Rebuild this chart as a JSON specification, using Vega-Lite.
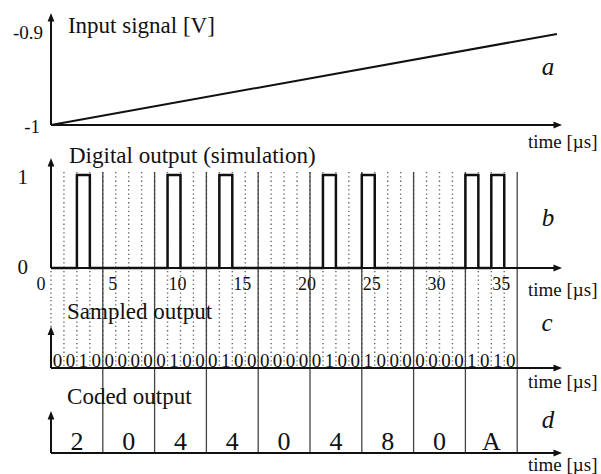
{
  "$schema": "https://vega.github.io/schema/vega-lite/v6.json",
  "padding": 0,
  "bounds": "flush",
  "spacing": 0,
  "config": {
    "view": {"stroke": null},
    "text": {"font": "Liberation Serif", "color": "#111"}
  },
  "resolve": {"scale": {"x": "independent", "y": "independent"}},
  "datasets": {
    "one": [{}],
    "ramp": [{"t": 0, "v": -1}, {"t": 39.07, "v": -0.901}],
    "xticks": [{"tick": 0}, {"tick": 5}, {"tick": 10}, {"tick": 15}, {"tick": 20}, {"tick": 25}, {"tick": 30}, {"tick": 35}],
    "bits": [
      {"t": 0, "bit": 0}, {"t": 1, "bit": 0}, {"t": 2, "bit": 1}, {"t": 3, "bit": 0},
      {"t": 4, "bit": 0}, {"t": 5, "bit": 0}, {"t": 6, "bit": 0}, {"t": 7, "bit": 0},
      {"t": 8, "bit": 0}, {"t": 9, "bit": 1}, {"t": 10, "bit": 0}, {"t": 11, "bit": 0},
      {"t": 12, "bit": 0}, {"t": 13, "bit": 1}, {"t": 14, "bit": 0}, {"t": 15, "bit": 0},
      {"t": 16, "bit": 0}, {"t": 17, "bit": 0}, {"t": 18, "bit": 0}, {"t": 19, "bit": 0},
      {"t": 20, "bit": 0}, {"t": 21, "bit": 1}, {"t": 22, "bit": 0}, {"t": 23, "bit": 0},
      {"t": 24, "bit": 1}, {"t": 25, "bit": 0}, {"t": 26, "bit": 0}, {"t": 27, "bit": 0},
      {"t": 28, "bit": 0}, {"t": 29, "bit": 0}, {"t": 30, "bit": 0}, {"t": 31, "bit": 0},
      {"t": 32, "bit": 1}, {"t": 33, "bit": 0}, {"t": 34, "bit": 1}, {"t": 35, "bit": 0}
    ],
    "codes": [
      {"start": 0, "end": 4, "code": "2"}, {"start": 4, "end": 8, "code": "0"},
      {"start": 8, "end": 12, "code": "4"}, {"start": 12, "end": 16, "code": "4"},
      {"start": 16, "end": 20, "code": "0"}, {"start": 20, "end": 24, "code": "4"},
      {"start": 24, "end": 28, "code": "8"}, {"start": 28, "end": 32, "code": "0"},
      {"start": 32, "end": 36, "code": "A"}
    ]
  },
  "vconcat": [
    {
      "width": 601, "height": 150,
      "layer": [
        {"data": {"name": "ramp"}, "mark": {"type": "line", "stroke": "#111", "strokeWidth": 2},
         "encoding": {
           "x": {"field": "t", "type": "quantitative", "scale": {"domain": [-3.938, 42.471], "nice": false, "zero": false}, "axis": null},
           "y": {"field": "v", "type": "quantitative", "scale": {"domain": [-1.02717, -0.86413], "nice": false, "zero": false}, "axis": null}
         }},
        {"data": {"name": "one"}, "mark": {"type": "rule", "stroke": "#111", "strokeWidth": 2},
         "encoding": {
           "x": {"datum": 0, "scale": {"domain": [-3.938, 42.471], "nice": false, "zero": false}, "axis": null},
           "y": {"datum": -1, "scale": {"domain": [-1.02717, -0.86413], "nice": false, "zero": false}, "axis": null},
           "y2": {"datum": -0.8829}
         }},
        {"data": {"name": "one"}, "mark": {"type": "rule", "stroke": "#111", "strokeWidth": 2},
         "encoding": {
           "x": {"datum": 0, "scale": {"domain": [-3.938, 42.471], "nice": false, "zero": false}, "axis": null},
           "x2": {"datum": 39.13},
           "y": {"datum": -1, "scale": {"domain": [-1.02717, -0.86413], "nice": false, "zero": false}, "axis": null}
         }},
        {"data": {"name": "one"}, "mark": {"type": "point", "shape": "M0,-1L0.8,1L-0.8,1Z", "size": 72, "filled": true, "fill": "#111", "opacity": 1, "strokeWidth": 0},
         "encoding": {
           "x": {"datum": 0, "scale": {"domain": [-3.938, 42.471], "nice": false, "zero": false}, "axis": null},
           "y": {"datum": -0.8829, "scale": {"domain": [-1.02717, -0.86413], "nice": false, "zero": false}, "axis": null}
         }},
        {"data": {"name": "one"}, "mark": {"type": "point", "shape": "M1,0L-1,0.8L-1,-0.8Z", "size": 72, "filled": true, "fill": "#111", "opacity": 1, "strokeWidth": 0},
         "encoding": {
           "x": {"datum": 39.13, "scale": {"domain": [-3.938, 42.471], "nice": false, "zero": false}, "axis": null},
           "y": {"datum": -1, "scale": {"domain": [-1.02717, -0.86413], "nice": false, "zero": false}, "axis": null}
         }},
        {"data": {"name": "one"}, "mark": {"type": "text", "text": "-0.9", "align": "right", "baseline": "middle", "fontSize": 19},
         "encoding": {
           "x": {"datum": -0.62, "scale": {"domain": [-3.938, 42.471], "nice": false, "zero": false}, "axis": null},
           "y": {"datum": -0.9, "scale": {"domain": [-1.02717, -0.86413], "nice": false, "zero": false}, "axis": null}
         }},
        {"data": {"name": "one"}, "mark": {"type": "text", "text": "-1", "align": "right", "baseline": "middle", "fontSize": 19, "dy": 2},
         "encoding": {
           "x": {"datum": -0.85, "scale": {"domain": [-3.938, 42.471], "nice": false, "zero": false}, "axis": null},
           "y": {"datum": -1, "scale": {"domain": [-1.02717, -0.86413], "nice": false, "zero": false}, "axis": null}
         }},
        {"data": {"name": "one"}, "mark": {"type": "text", "text": "Input signal [V]", "align": "left", "baseline": "alphabetic", "fontSize": 23},
         "encoding": {
           "x": {"datum": 1.31, "scale": {"domain": [-3.938, 42.471], "nice": false, "zero": false}, "axis": null},
           "y": {"datum": -0.90033, "scale": {"domain": [-1.02717, -0.86413], "nice": false, "zero": false}, "axis": null}
         }},
        {"data": {"name": "one"}, "mark": {"type": "text", "text": "a", "align": "center", "baseline": "middle", "fontSize": 25, "fontStyle": "italic"},
         "encoding": {
           "x": {"datum": 38.38, "scale": {"domain": [-3.938, 42.471], "nice": false, "zero": false}, "axis": null},
           "y": {"datum": -0.93696, "scale": {"domain": [-1.02717, -0.86413], "nice": false, "zero": false}, "axis": null}
         }},
        {"data": {"name": "one"}, "mark": {"type": "text", "text": "time [µs]", "align": "left", "baseline": "middle", "fontSize": 19},
         "encoding": {
           "x": {"datum": 36.83, "scale": {"domain": [-3.938, 42.471], "nice": false, "zero": false}, "axis": null},
           "y": {"datum": -1.01848, "scale": {"domain": [-1.02717, -0.86413], "nice": false, "zero": false}, "axis": null}
         }}
      ]
    },
    {
      "width": 601, "height": 150,
      "layer": [
        {"data": {"name": "bits"}, "mark": {"type": "rule", "stroke": "#666", "strokeWidth": 1.4, "strokeDash": [1.3, 3]},
         "encoding": {
           "x": {"field": "t", "type": "quantitative", "scale": {"domain": [-3.938, 42.471], "nice": false, "zero": false}, "axis": null},
           "y": {"datum": 1.032, "scale": {"domain": [-0.34409, 1.26882], "nice": false, "zero": false}, "axis": null},
           "y2": {"datum": -0.34409}
         }},
        {"data": {"name": "codes"}, "mark": {"type": "rule", "stroke": "#444", "strokeWidth": 1.3},
         "encoding": {
           "x": {"field": "end", "type": "quantitative", "scale": {"domain": [-3.938, 42.471], "nice": false, "zero": false}, "axis": null},
           "y": {"datum": 1.032, "scale": {"domain": [-0.34409, 1.26882], "nice": false, "zero": false}, "axis": null},
           "y2": {"datum": -0.34409}
         }},
        {"data": {"name": "bits"}, "mark": {"type": "line", "interpolate": "step-after", "stroke": "#111", "strokeWidth": 2.5},
         "encoding": {
           "x": {"field": "t", "type": "quantitative", "scale": {"domain": [-3.938, 42.471], "nice": false, "zero": false}, "axis": null},
           "y": {"field": "bit", "type": "quantitative", "scale": {"domain": [-0.34409, 1.26882], "nice": false, "zero": false}, "axis": null}
         }},
        {"data": {"name": "xticks"}, "transform": [{"filter": "datum.tick > 0"}],
         "mark": {"type": "text", "align": "center", "baseline": "middle", "fontSize": 18, "dx": -3},
         "encoding": {
           "x": {"field": "tick", "type": "quantitative", "scale": {"domain": [-3.938, 42.471], "nice": false, "zero": false}, "axis": null},
           "y": {"datum": -0.1828, "scale": {"domain": [-0.34409, 1.26882], "nice": false, "zero": false}, "axis": null},
           "text": {"field": "tick", "type": "nominal"}
         }},
        {"data": {"name": "xticks"}, "transform": [{"filter": "datum.tick == 0"}],
         "mark": {"type": "text", "align": "center", "baseline": "middle", "fontSize": 18, "dx": -10},
         "encoding": {
           "x": {"field": "tick", "type": "quantitative", "scale": {"domain": [-3.938, 42.471], "nice": false, "zero": false}, "axis": null},
           "y": {"datum": -0.1828, "scale": {"domain": [-0.34409, 1.26882], "nice": false, "zero": false}, "axis": null},
           "text": {"field": "tick", "type": "nominal"}
         }},
        {"data": {"name": "one"}, "mark": {"type": "text", "text": "1", "align": "right", "baseline": "middle", "fontSize": 21, "dy": 3},
         "encoding": {
           "x": {"datum": -1.78, "scale": {"domain": [-3.938, 42.471], "nice": false, "zero": false}, "axis": null},
           "y": {"datum": 1, "scale": {"domain": [-0.34409, 1.26882], "nice": false, "zero": false}, "axis": null}
         }},
        {"data": {"name": "one"}, "mark": {"type": "text", "text": "0", "align": "right", "baseline": "middle", "fontSize": 21},
         "encoding": {
           "x": {"datum": -1.78, "scale": {"domain": [-3.938, 42.471], "nice": false, "zero": false}, "axis": null},
           "y": {"datum": 0, "scale": {"domain": [-0.34409, 1.26882], "nice": false, "zero": false}, "axis": null}
         }},
        {"data": {"name": "one"}, "mark": {"type": "rule", "stroke": "#111", "strokeWidth": 2},
         "encoding": {
           "x": {"datum": 0, "scale": {"domain": [-3.938, 42.471], "nice": false, "zero": false}, "axis": null},
           "y": {"datum": 0, "scale": {"domain": [-0.34409, 1.26882], "nice": false, "zero": false}, "axis": null},
           "y2": {"datum": 1.1372}
         }},
        {"data": {"name": "one"}, "mark": {"type": "rule", "stroke": "#111", "strokeWidth": 2},
         "encoding": {
           "x": {"datum": 0, "scale": {"domain": [-3.938, 42.471], "nice": false, "zero": false}, "axis": null},
           "x2": {"datum": 39.13},
           "y": {"datum": 0, "scale": {"domain": [-0.34409, 1.26882], "nice": false, "zero": false}, "axis": null}
         }},
        {"data": {"name": "one"}, "mark": {"type": "point", "shape": "M0,-1L0.8,1L-0.8,1Z", "size": 72, "filled": true, "fill": "#111", "opacity": 1, "strokeWidth": 0},
         "encoding": {
           "x": {"datum": 0, "scale": {"domain": [-3.938, 42.471], "nice": false, "zero": false}, "axis": null},
           "y": {"datum": 1.1372, "scale": {"domain": [-0.34409, 1.26882], "nice": false, "zero": false}, "axis": null}
         }},
        {"data": {"name": "one"}, "mark": {"type": "point", "shape": "M1,0L-1,0.8L-1,-0.8Z", "size": 72, "filled": true, "fill": "#111", "opacity": 1, "strokeWidth": 0},
         "encoding": {
           "x": {"datum": 39.13, "scale": {"domain": [-3.938, 42.471], "nice": false, "zero": false}, "axis": null},
           "y": {"datum": 0, "scale": {"domain": [-0.34409, 1.26882], "nice": false, "zero": false}, "axis": null}
         }},
        {"data": {"name": "one"}, "mark": {"type": "text", "text": "Digital output (simulation)", "align": "left", "baseline": "alphabetic", "fontSize": 23},
         "encoding": {
           "x": {"datum": 1.39, "scale": {"domain": [-3.938, 42.471], "nice": false, "zero": false}, "axis": null},
           "y": {"datum": 1.129, "scale": {"domain": [-0.34409, 1.26882], "nice": false, "zero": false}, "axis": null}
         }},
        {"data": {"name": "one"}, "mark": {"type": "text", "text": "b", "align": "center", "baseline": "middle", "fontSize": 25, "fontStyle": "italic"},
         "encoding": {
           "x": {"datum": 38.38, "scale": {"domain": [-3.938, 42.471], "nice": false, "zero": false}, "axis": null},
           "y": {"datum": 0.5376, "scale": {"domain": [-0.34409, 1.26882], "nice": false, "zero": false}, "axis": null}
         }},
        {"data": {"name": "one"}, "mark": {"type": "text", "text": "time [µs]", "align": "left", "baseline": "middle", "fontSize": 19},
         "encoding": {
           "x": {"datum": 36.83, "scale": {"domain": [-3.938, 42.471], "nice": false, "zero": false}, "axis": null},
           "y": {"datum": -0.2366, "scale": {"domain": [-0.34409, 1.26882], "nice": false, "zero": false}, "axis": null}
         }}
      ]
    },
    {
      "width": 601, "height": 88,
      "layer": [
        {"data": {"name": "bits"}, "mark": {"type": "rule", "stroke": "#666", "strokeWidth": 1.4, "strokeDash": [1.3, 3]},
         "encoding": {
           "x": {"field": "t", "type": "quantitative", "scale": {"domain": [-3.938, 42.471], "nice": false, "zero": false}, "axis": null},
           "y": {"datum": 1.65854, "scale": {"domain": [-0.4878, 1.65854], "nice": false, "zero": false}, "axis": null},
           "y2": {"datum": 0}
         }},
        {"data": {"name": "codes"}, "mark": {"type": "rule", "stroke": "#444", "strokeWidth": 1.3},
         "encoding": {
           "x": {"field": "end", "type": "quantitative", "scale": {"domain": [-3.938, 42.471], "nice": false, "zero": false}, "axis": null},
           "y": {"datum": 1.65854, "scale": {"domain": [-0.4878, 1.65854], "nice": false, "zero": false}, "axis": null},
           "y2": {"datum": -0.4878}
         }},
        {"data": {"name": "bits"}, "mark": {"type": "text", "align": "center", "baseline": "middle", "fontSize": 19, "dx": 6.475},
         "encoding": {
           "x": {"field": "t", "type": "quantitative", "scale": {"domain": [-3.938, 42.471], "nice": false, "zero": false}, "axis": null},
           "y": {"datum": 0.17, "scale": {"domain": [-0.4878, 1.65854], "nice": false, "zero": false}, "axis": null},
           "text": {"field": "bit", "type": "nominal"}
         }},
        {"data": {"name": "one"}, "mark": {"type": "rule", "stroke": "#111", "strokeWidth": 2},
         "encoding": {
           "x": {"datum": 0, "scale": {"domain": [-3.938, 42.471], "nice": false, "zero": false}, "axis": null},
           "y": {"datum": 0, "scale": {"domain": [-0.4878, 1.65854], "nice": false, "zero": false}, "axis": null},
           "y2": {"datum": 0.91}
         }},
        {"data": {"name": "one"}, "mark": {"type": "rule", "stroke": "#111", "strokeWidth": 2},
         "encoding": {
           "x": {"datum": 0, "scale": {"domain": [-3.938, 42.471], "nice": false, "zero": false}, "axis": null},
           "x2": {"datum": 39.13},
           "y": {"datum": 0, "scale": {"domain": [-0.4878, 1.65854], "nice": false, "zero": false}, "axis": null}
         }},
        {"data": {"name": "one"}, "mark": {"type": "point", "shape": "M0,-1L0.8,1L-0.8,1Z", "size": 72, "filled": true, "fill": "#111", "opacity": 1, "strokeWidth": 0},
         "encoding": {
           "x": {"datum": 0, "scale": {"domain": [-3.938, 42.471], "nice": false, "zero": false}, "axis": null},
           "y": {"datum": 0.91, "scale": {"domain": [-0.4878, 1.65854], "nice": false, "zero": false}, "axis": null}
         }},
        {"data": {"name": "one"}, "mark": {"type": "point", "shape": "M1,0L-1,0.8L-1,-0.8Z", "size": 72, "filled": true, "fill": "#111", "opacity": 1, "strokeWidth": 0},
         "encoding": {
           "x": {"datum": 39.13, "scale": {"domain": [-3.938, 42.471], "nice": false, "zero": false}, "axis": null},
           "y": {"datum": 0, "scale": {"domain": [-0.4878, 1.65854], "nice": false, "zero": false}, "axis": null}
         }},
        {"data": {"name": "one"}, "mark": {"type": "text", "text": "Sampled output", "align": "left", "baseline": "alphabetic", "fontSize": 23},
         "encoding": {
           "x": {"datum": 1.24, "scale": {"domain": [-3.938, 42.471], "nice": false, "zero": false}, "axis": null},
           "y": {"datum": 1.195, "scale": {"domain": [-0.4878, 1.65854], "nice": false, "zero": false}, "axis": null}
         }},
        {"data": {"name": "one"}, "mark": {"type": "text", "text": "c", "align": "center", "baseline": "middle", "fontSize": 25, "fontStyle": "italic"},
         "encoding": {
           "x": {"datum": 38.3, "scale": {"domain": [-3.938, 42.471], "nice": false, "zero": false}, "axis": null},
           "y": {"datum": 1.098, "scale": {"domain": [-0.4878, 1.65854], "nice": false, "zero": false}, "axis": null}
         }},
        {"data": {"name": "one"}, "mark": {"type": "text", "text": "time [µs]", "align": "left", "baseline": "middle", "fontSize": 19},
         "encoding": {
           "x": {"datum": 36.83, "scale": {"domain": [-3.938, 42.471], "nice": false, "zero": false}, "axis": null},
           "y": {"datum": -0.341, "scale": {"domain": [-0.4878, 1.65854], "nice": false, "zero": false}, "axis": null}
         }}
      ]
    },
    {
      "width": 601, "height": 86,
      "layer": [
        {"data": {"name": "codes"}, "mark": {"type": "rule", "stroke": "#444", "strokeWidth": 1.3},
         "encoding": {
           "x": {"field": "end", "type": "quantitative", "scale": {"domain": [-3.938, 42.471], "nice": false, "zero": false}, "axis": null},
           "y": {"datum": 1.54762, "scale": {"domain": [-0.5, 1.54762], "nice": false, "zero": false}, "axis": null},
           "y2": {"datum": 0}
         }},
        {"data": {"name": "codes"}, "mark": {"type": "text", "align": "center", "baseline": "middle", "fontSize": 26, "dx": 25.9},
         "encoding": {
           "x": {"field": "start", "type": "quantitative", "scale": {"domain": [-3.938, 42.471], "nice": false, "zero": false}, "axis": null},
           "y": {"datum": 0.262, "scale": {"domain": [-0.5, 1.54762], "nice": false, "zero": false}, "axis": null},
           "text": {"field": "code", "type": "nominal"}
         }},
        {"data": {"name": "one"}, "mark": {"type": "rule", "stroke": "#111", "strokeWidth": 2},
         "encoding": {
           "x": {"datum": 0, "scale": {"domain": [-3.938, 42.471], "nice": false, "zero": false}, "axis": null},
           "y": {"datum": 0, "scale": {"domain": [-0.5, 1.54762], "nice": false, "zero": false}, "axis": null},
           "y2": {"datum": 0.899}
         }},
        {"data": {"name": "one"}, "mark": {"type": "rule", "stroke": "#111", "strokeWidth": 2},
         "encoding": {
           "x": {"datum": 0, "scale": {"domain": [-3.938, 42.471], "nice": false, "zero": false}, "axis": null},
           "x2": {"datum": 39.13},
           "y": {"datum": 0, "scale": {"domain": [-0.5, 1.54762], "nice": false, "zero": false}, "axis": null}
         }},
        {"data": {"name": "one"}, "mark": {"type": "point", "shape": "M0,-1L0.8,1L-0.8,1Z", "size": 72, "filled": true, "fill": "#111", "opacity": 1, "strokeWidth": 0},
         "encoding": {
           "x": {"datum": 0, "scale": {"domain": [-3.938, 42.471], "nice": false, "zero": false}, "axis": null},
           "y": {"datum": 0.899, "scale": {"domain": [-0.5, 1.54762], "nice": false, "zero": false}, "axis": null}
         }},
        {"data": {"name": "one"}, "mark": {"type": "point", "shape": "M1,0L-1,0.8L-1,-0.8Z", "size": 72, "filled": true, "fill": "#111", "opacity": 1, "strokeWidth": 0},
         "encoding": {
           "x": {"datum": 39.13, "scale": {"domain": [-3.938, 42.471], "nice": false, "zero": false}, "axis": null},
           "y": {"datum": 0, "scale": {"domain": [-0.5, 1.54762], "nice": false, "zero": false}, "axis": null}
         }},
        {"data": {"name": "one"}, "mark": {"type": "text", "text": "Coded output", "align": "left", "baseline": "alphabetic", "fontSize": 23},
         "encoding": {
           "x": {"datum": 1.24, "scale": {"domain": [-3.938, 42.471], "nice": false, "zero": false}, "axis": null},
           "y": {"datum": 1.167, "scale": {"domain": [-0.5, 1.54762], "nice": false, "zero": false}, "axis": null}
         }},
        {"data": {"name": "one"}, "mark": {"type": "text", "text": "d", "align": "center", "baseline": "middle", "fontSize": 25, "fontStyle": "italic"},
         "encoding": {
           "x": {"datum": 38.38, "scale": {"domain": [-3.938, 42.471], "nice": false, "zero": false}, "axis": null},
           "y": {"datum": 0.786, "scale": {"domain": [-0.5, 1.54762], "nice": false, "zero": false}, "axis": null}
         }},
        {"data": {"name": "one"}, "mark": {"type": "text", "text": "time [µs]", "align": "left", "baseline": "middle", "fontSize": 19},
         "encoding": {
           "x": {"datum": 36.83, "scale": {"domain": [-3.938, 42.471], "nice": false, "zero": false}, "axis": null},
           "y": {"datum": -0.286, "scale": {"domain": [-0.5, 1.54762], "nice": false, "zero": false}, "axis": null}
         }}
      ]
    }
  ]
}
